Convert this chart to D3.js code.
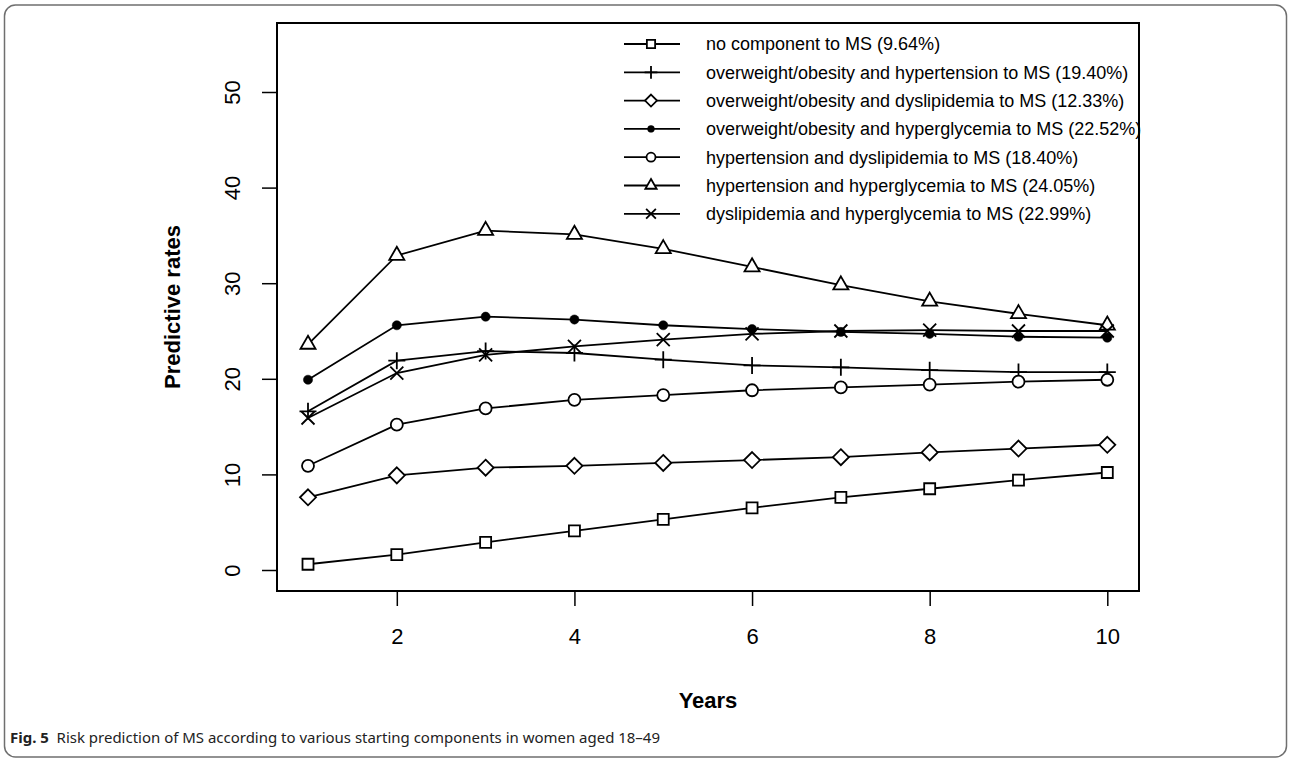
<!DOCTYPE html>
<html lang="en">
<head>
<meta charset="UTF-8">
<title>Fig. 5</title>
<style>
  body { margin: 0; background: #fff; }
  text { font-family: "Liberation Sans", Arial, sans-serif; }
</style>
</head>
<body>
<script src="https://cdn.jsdelivr.net/npm/d3@7"></script>
<script>
// data
var years = [1, 2, 3, 4, 5, 6, 7, 8, 9, 10]
var xTicks = [2, 4, 6, 8, 10]
var yTicks = [0, 10, 20, 30, 40, 50]

var noComponent = [0.6, 1.6, 2.9, 4.1, 5.3, 6.5, 7.6, 8.5, 9.4, 10.2]
var owHypertension = [16.6, 21.9, 22.9, 22.7, 22.0, 21.4, 21.2, 20.9, 20.7, 20.7]
var owDyslipidemia = [7.6, 9.9, 10.7, 10.9, 11.2, 11.5, 11.8, 12.3, 12.7, 13.1]
var owHyperglycemia = [19.9, 25.6, 26.5, 26.2, 25.6, 25.2, 24.9, 24.7, 24.4, 24.3]
var htnDyslipidemia = [10.9, 15.2, 16.9, 17.8, 18.3, 18.8, 19.1, 19.4, 19.7, 19.9]
var htnHyperglycemia = [23.6, 32.9, 35.5, 35.1, 33.6, 31.7, 29.8, 28.1, 26.8, 25.6]
var dysHyperglycemia = [15.9, 20.6, 22.5, 23.4, 24.1, 24.7, 25.0, 25.1, 25.0, 25.0]

var labels = [
  'no component to MS (9.64%)',
  'overweight/obesity and hypertension to MS (19.40%)',
  'overweight/obesity and dyslipidemia to MS (12.33%)',
  'overweight/obesity and hyperglycemia to MS (22.52%)',
  'hypertension and dyslipidemia to MS (18.40%)',
  'hypertension and hyperglycemia to MS (24.05%)',
  'dyslipidemia and hyperglycemia to MS (22.99%)'
]
var shapes = ['square', 'plus', 'diamond', 'dot', 'circle', 'triangle', 'times']

var series = [noComponent, owHypertension, owDyslipidemia, owHyperglycemia,
  htnDyslipidemia, htnHyperglycemia, dysHyperglycemia].map(function (v, i) {
  return { name: labels[i], shape: shapes[i], values: v }
})

var W = 1290, H = 761
var box = { left: 277, right: 1139, top: 23, bottom: 591 }

var x = d3.scaleLinear().domain([1, 10]).range([308, 1107.3])
var y = d3.scaleLinear().domain([0, 50]).range([570, 92])

var svg = d3.select('body').append('svg').attr('width', W).attr('height', H)

// outer figure frame
svg.append('rect').attr('x', 4.5).attr('y', 5).attr('width', 1282).attr('height', 752)
  .attr('rx', 11).attr('fill', 'none').attr('stroke', '#6f6f6f').attr('stroke-width', 1.5)

// R style point symbols
function symbolPath(shape, k) {
  var p = d3.path()
  if (shape === 'square') {
    var s = 5.5 * k; p.rect(-s, -s, 2 * s, 2 * s)
  } else if (shape === 'plus') {
    var a = 8.5 * k; p.moveTo(-a, 0); p.lineTo(a, 0); p.moveTo(0, -a); p.lineTo(0, a)
  } else if (shape === 'times') {
    var t = 6.5 * k; p.moveTo(-t, -t); p.lineTo(t, t); p.moveTo(-t, t); p.lineTo(t, -t)
  } else if (shape === 'diamond') {
    var d = 8 * k; p.moveTo(0, -d); p.lineTo(d, 0); p.lineTo(0, d); p.lineTo(-d, 0); p.closePath()
  } else if (shape === 'circle') {
    var r = 6 * k; p.moveTo(r, 0); p.arc(0, 0, r, 0, 2 * Math.PI)
  } else if (shape === 'dot') {
    var rd = 4.6 * k; p.moveTo(rd, 0); p.arc(0, 0, rd, 0, 2 * Math.PI)
  } else if (shape === 'triangle') {
    var tr = 8.7 * k, xc = tr * Math.sqrt(3) / 2
    p.moveTo(0, -tr); p.lineTo(xc, tr / 2); p.lineTo(-xc, tr / 2); p.closePath()
  }
  return p.toString()
}

function drawSymbol(sel, shape, k) {
  sel.append('path').attr('d', symbolPath(shape, k))
    .attr('fill', shape === 'dot' ? '#000' : '#fff')
    .attr('stroke', '#000').attr('stroke-width', shape === 'dot' ? 0.5 : 1.8)
}

// lines
var line = d3.line().x(function (d, i) { return x(years[i]) }).y(function (d) { return y(d) })
svg.append('g').attr('fill', 'none').attr('stroke', '#000').attr('stroke-width', 1.8)
  .selectAll('path').data(series).enter().append('path')
  .attr('d', function (d) { return line(d.values) })

// points
series.forEach(function (s) {
  s.values.forEach(function (v, i) {
    var g = svg.append('g').attr('transform', 'translate(' + x(years[i]) + ',' + y(v) + ')')
    drawSymbol(g, s.shape, 1)
  })
})

// plot box
svg.append('rect').attr('x', box.left).attr('y', box.top)
  .attr('width', box.right - box.left).attr('height', box.bottom - box.top)
  .attr('fill', 'none').attr('stroke', '#000').attr('stroke-width', 2)

// axes
var xAxis = svg.append('g').attr('transform', 'translate(0,' + box.bottom + ')')
  .call(d3.axisBottom(x).tickValues(xTicks).tickSize(15).tickPadding(22))
xAxis.select('.domain').remove()
xAxis.selectAll('line').attr('stroke-width', 1.5)
xAxis.selectAll('text').attr('font-size', 22)

var yAxis = svg.append('g').attr('transform', 'translate(' + box.left + ',0)')
  .call(d3.axisLeft(y).tickValues(yTicks).tickSize(15))
yAxis.select('.domain').remove()
yAxis.selectAll('line').attr('stroke-width', 1.5)
yAxis.selectAll('text').attr('x', null).attr('dy', '0.36em')
  .attr('transform', 'translate(-45,0) rotate(-90)').attr('text-anchor', 'middle')
  .attr('font-size', 22)

// axis titles
svg.append('text').attr('x', (box.left + box.right) / 2).attr('y', 708)
  .attr('text-anchor', 'middle').attr('font-size', 22).attr('font-weight', 'bold').text('Years')
svg.append('text').attr('transform', 'translate(180,' + ((box.top + box.bottom) / 2) + ') rotate(-90)')
  .attr('text-anchor', 'middle').attr('font-size', 22).attr('font-weight', 'bold').text('Predictive rates')

// legend
var legend = svg.append('g').selectAll('g').data(series).enter().append('g')
  .attr('transform', function (d, i) { return 'translate(0,' + (44 + i * 28.3) + ')' })
legend.append('line').attr('x1', 624).attr('x2', 680).attr('stroke', '#000').attr('stroke-width', 1.8)
legend.each(function (d) {
  drawSymbol(d3.select(this).append('g').attr('transform', 'translate(651,0)'), d.shape, 0.75)
})
legend.append('text').attr('x', 706).attr('dy', '0.35em').attr('font-size', 18)
  .text(function (d) { return d.name })

// caption
var cap = svg.append('text').attr('x', 10).attr('y', 743).attr('font-size', 15)
  .style('font-family', '"Noto Sans", "Open Sans", sans-serif')
  .attr('textLength', 650).attr('lengthAdjust', 'spacingAndGlyphs').attr('fill', '#222')
cap.append('tspan').attr('font-weight', 'bold').text('Fig. 5')
cap.append('tspan').text('\u00a0 Risk prediction of MS according to various starting components in women aged 18–49')
</script>
</body>
</html>
